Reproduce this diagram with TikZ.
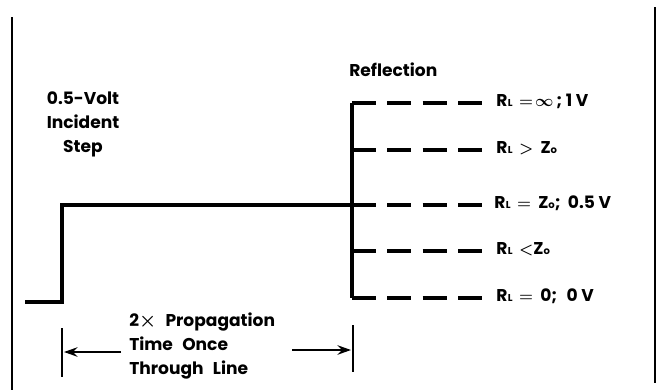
\documentclass[tikz,border=0pt]{standalone}
\usepackage{fontspec}
\setmainfont{Poppins}
\usetikzlibrary{arrows.meta}
\newcommand\myRL{R\kern0.3pt{\fontsize{7.5}{8}\selectfont L}}
\newcommand\myZo{Z{\fontsize{7.5}{8}\selectfont o}}
\newcommand\wsp{\hspace{7pt}}
\begin{document}
\begin{tikzpicture}[x=0.75pt,y=-0.75pt,
  lbl/.style={font=\fontsize{12.8}{18}\selectfont\bfseries\boldmath, inner sep=0pt},
  rowlbl/.style={lbl, anchor=west},
  border/.style={line width=1.7pt},
  wave/.style={line width=2.5pt, line join=miter},
  refl/.style={line width=2.3pt, dash pattern=on 18pt off 8.5pt},
  bar/.style={line width=1.8pt},
  dimarrow/.style={line width=1.6pt, -{Stealth[length=10pt,width=7pt]}}]
\useasboundingbox (0,0) rectangle (658,390);
% borders
\coordinate (bl1) at (12,17);  \coordinate (bl2) at (12,390);
\coordinate (br1) at (655,7);  \coordinate (br2) at (655,383);
\draw[border] (bl1) -- (bl2);
\draw[border] (br1) -- (br2);
% incident step
\coordinate (s0) at (25,302);
\coordinate (s1) at (62,302);
\coordinate (s2) at (62,205);
\coordinate (j)  at (352,205);
\coordinate (rt) at (352,103);
\coordinate (rb) at (352,298);
\draw[wave] (s0) -- (s1) -- (s2) -- (j);
\draw[wave] (rt) -- (rb);
% reflection dashed lines
\coordinate (e1) at (483,103);
\coordinate (e2) at (483,150);
\coordinate (e3) at (483,205);
\coordinate (e4) at (483,251);
\coordinate (e5) at (483,298);
\coordinate (r2) at (352,150);
\coordinate (r4) at (352,251);
\draw[refl] (rt) -- (e1);
\draw[refl] (r2) -- (e2);
\draw[refl] (j) -- (e3);
\draw[refl] (r4) -- (e4);
\draw[refl] (rb) -- (e5);
% labels
\node[lbl, align=center] (inc) at (83,124) {0.5-Volt\\Incident\\Step};
\node[rowlbl] (refltitle) at (349,70) {Reflection};
\node[rowlbl] (l1) at (496,101) {\myRL\ \,$=\!\infty$\,; 1 V};
\node[rowlbl] (l2) at (496,148) {\myRL\ \,$>$\ \ \myZo};
\node[rowlbl] (l3) at (494,203) {\myRL\ \,$=$\ \ \myZo;\ \ 0.5 V};
\node[rowlbl] (l4) at (496,249) {\myRL\ \,$<$\myZo};
\node[rowlbl] (l5) at (496,296) {\myRL\ \,$=$\ \ 0;\wsp0 V};
% propagation time dimension
\coordinate (bla) at (62,328); \coordinate (blb) at (62,377);
\coordinate (bra) at (353,325); \coordinate (brb) at (353,372);
\draw[bar] (bla) -- (blb);
\draw[bar] (bra) -- (brb);
\node[lbl, align=left, anchor=west] (dim) at (129,346) {2{\Large$\times$}\wsp Propagation\\Time\wsp Once\\Through\wsp Line};
\coordinate (al) at (64,352); \coordinate (ar) at (351,350);
\draw[dimarrow] (121,352) coordinate (als) -- (al);
\draw[dimarrow] (292,350) coordinate (ars) -- (ar);
\end{tikzpicture}
\end{document}
